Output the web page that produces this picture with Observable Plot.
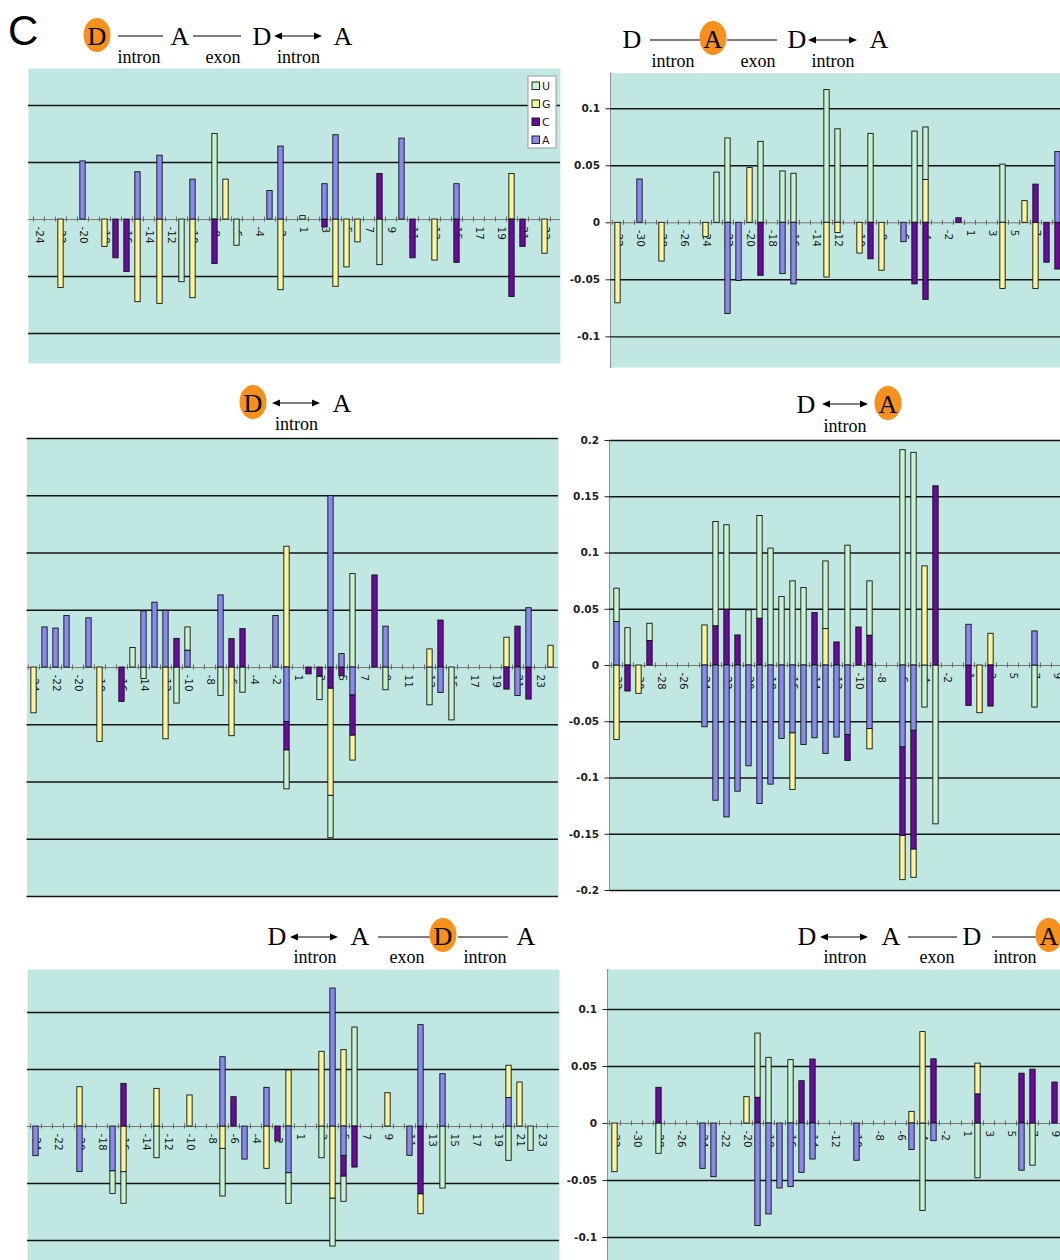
<!DOCTYPE html>
<html><head><meta charset="utf-8">
<script src="https://cdn.jsdelivr.net/npm/d3@7"></script>
<script src="https://cdn.jsdelivr.net/npm/@observablehq/plot@0.6"></script>
<style>
html,body{margin:0;padding:0;background:#fff;overflow:hidden;width:1060px;height:1260px;position:relative}
.pn{position:absolute;overflow:hidden}
.pn svg{overflow:hidden}
#overlay{position:absolute;left:0;top:0;pointer-events:none}
</style></head><body>
<script>
// ---------------- data ----------------
const legendBases = ["U", "G", "C", "A"];
const stackOrder = ["A", "C", "G", "U"];
const baseColors = ["#c9f3cf", "#faf49b", "#6a0a9e", "#8a8aee"];

const posLeft = [-24,-23,-22,-21,-20,-19,-18,-17,-16,-15,-14,-13,-12,-11,-10,-9,-8,-7,-6,-5,-4,-3,-2,-1,
  1,2,3,4,5,6,7,8,9,10,11,12,13,14,15,16,17,18,19,20,21,22,23,24];
const posRight = [-32,-31,-30,-29,-28,-27,-26,-25,-24,-23,-22,-21,-20,-19,-18,-17,-16,-15,-14,-13,-12,-11,
  -10,-9,-8,-7,-6,-5,-4,-3,-2,-1,1,2,3,4,5,6,7,8,9];
const labLeft = [-24,-22,-20,-18,-16,-14,-12,-10,-8,-6,-4,-2,1,3,5,7,9,11,13,15,17,19,21,23];
const labRight = [-32,-30,-28,-26,-24,-22,-20,-18,-16,-14,-12,-10,-8,-6,-4,-2,1,3,5,7,9];

// panel 1 : D -- A -- D <-> A   (first D highlighted)
const p1U = [[-11,-0.055],[-8,0.075],[-6,-0.023],[1,0.003],[8,-0.040]];
const p1G = [[-22,-0.060],[-18,-0.024],[-15,-0.0725],[-13,-0.074],[-10,-0.069],[-7,0.035],[-2,-0.062],
  [4,-0.059],[5,-0.042],[6,-0.020],[13,-0.036],[20,0.040],[23,-0.030]];
const p1C = [[-17,-0.034],[-16,-0.046],[-8,-0.039],[3,-0.007],[8,0.040],[11,-0.034],[15,-0.038],[20,-0.068],[21,-0.024]];
const p1A = [[-20,0.051],[-15,0.0415],[-13,0.056],[-10,0.035],[-3,0.025],[-2,0.064],[3,0.031],[4,0.074],[10,0.071],[15,0.031]];

// panel 2 : D -- A -- D <-> A   (first A highlighted)
const p2U = [[-23,0.044],[-22,0.074],[-19,0.071],[-17,0.045],[-16,0.043],[-13,0.1165],[-12,0.082],[-9,0.078],
  [-5,0.080],[-4,0.046],[4,0.051]];
const p2G = [[-32,-0.0706],[-28,-0.034],[-24,-0.0126],[-20,0.048],[-13,-0.048],[-12,-0.009],[-10,-0.027],[-8,-0.042],
  [-4,0.0376],[4,-0.058],[6,0.019],[7,-0.058]];
const p2C = [[-19,-0.0465],[-9,-0.032],[-5,-0.054],[-4,-0.0676],[-1,0.004],[7,0.0335],[8,-0.035],[9,-0.041]];
const p2A = [[-30,0.038],[-22,-0.080],[-21,-0.051],[-17,-0.045],[-16,-0.054],[-6,-0.017],[9,0.062]];

// panel 3 : D <-> A   (D highlighted)
const p3U = [[-15,0.017],[-14,-0.010],[-11,-0.0315],[-10,0.0204],[-7,-0.0248],[-5,-0.022],[-1,-0.0341],[3,-0.0205],
  [4,-0.0371],[6,0.0816],[9,-0.0199],[13,-0.033],[15,-0.0462]];
const p3G = [[-24,-0.040],[-18,-0.065],[-12,-0.0627],[-6,-0.060],[-1,0.1055],[4,-0.0936],[6,-0.0219],[13,0.0158],
  [20,0.026],[24,0.019]];
const p3C = [[-16,-0.030],[-11,0.025],[-6,0.0248],[-5,0.0335],[-1,-0.0248],[2,-0.006],[3,-0.008],[4,-0.0184],
  [5,-0.0076],[6,-0.0351],[8,0.0804],[14,0.041],[20,-0.0193],[21,0.0357],[22,-0.028]];
const p3A = [[-23,0.035],[-22,0.034],[-21,0.045],[-19,0.043],[-14,0.049],[-13,0.0566],[-12,0.0496],[-10,0.0146],
  [-7,0.063],[-2,0.045],[-1,-0.0475],[4,0.1497],[5,0.0117],[6,-0.0243],[9,0.0357],[14,-0.0222],[21,-0.0249],[22,0.0518]];

// panel 4 : D <-> A   (A highlighted)
const p4U = [[-32,0.0297],[-31,0.0332],[-29,0.0154],[-23,0.0929],[-22,0.0751],[-20,0.049],[-19,0.0914],[-18,0.1039],
  [-17,0.0608],[-16,0.0748],[-15,0.0688],[-13,0.0602],[-11,0.1065],[-9,0.0484],[-6,0.1914],[-5,0.189],[-4,-0.0374],
  [-3,-0.1412],[7,-0.0374]];
const p4G = [[-32,-0.0662],[-30,-0.0252],[-24,0.0356],[-16,-0.0504],[-13,0.0323],[-9,-0.0181],[-6,-0.0392],
  [-5,-0.0252],[-4,0.0881],[2,-0.0424],[3,0.0282]];
const p4C = [[-31,-0.0231],[-29,0.0217],[-23,0.0347],[-22,0.0496],[-21,0.0267],[-19,0.0415],[-14,0.0466],[-12,0.0205],
  [-11,-0.0231],[-10,0.0338],[-9,0.0264],[-6,-0.0789],[-5,-0.1056],[-3,0.1593],[1,-0.0359],[3,-0.0365]];
const p4A = [[-32,0.0386],[-24,-0.0549],[-23,-0.1202],[-22,-0.135],[-21,-0.1122],[-20,-0.0896],[-19,-0.1231],
  [-18,-0.1059],[-17,-0.0653],[-16,-0.0602],[-15,-0.0706],[-14,-0.0647],[-13,-0.0786],[-12,-0.0641],[-11,-0.0617],
  [-9,-0.0564],[-6,-0.0727],[-5,-0.0579],[1,0.0362],[7,0.0303]];

// panel 5 : D <-> A -- D -- A   (second D highlighted)
const p5U = [[-17,-0.0199],[-16,-0.0278],[-13,-0.0278],[-7,-0.0418],[-1,-0.0269],[3,-0.0278],[4,-0.0421],[5,-0.0222],
  [6,0.0868],[14,-0.0544],[20,-0.0301],[22,-0.0213]];
const p5G = [[-20,0.0345],[-16,-0.040],[-13,0.033],[-10,0.0272],[-7,-0.0196],[-3,-0.0371],[-1,0.0491],[3,0.0655],
  [4,-0.0632],[5,0.067],[9,0.0292],[12,-0.0175],[20,0.0284],[21,0.0386]];
const p5C = [[-16,0.0374],[-6,0.0257],[-2,-0.013],[5,-0.0181],[6,-0.036],[12,-0.0594]];
const p5A = [[-24,-0.026],[-20,-0.040],[-17,-0.0392],[-7,0.0608],[-5,-0.029],[-3,0.0339],[-1,-0.0409],[4,0.121],
  [5,-0.0257],[11,-0.0257],[12,0.0889],[14,0.0459],[20,0.0249]];

// panel 6 : D <-> A -- D -- A   (last A highlighted)
const p6U = [[-28,-0.0266],[-19,0.0564],[-18,0.0576],[-16,0.0556],[-4,-0.0767],[2,-0.0481],[7,-0.037]];
const p6G = [[-32,-0.0427],[-20,0.0231],[-5,0.0102],[-4,0.0802],[2,0.0271]];
const p6C = [[-28,0.0313],[-19,0.0225],[-15,0.0371],[-14,0.0561],[-3,0.0563],[2,0.0254],[6,0.0437],[7,0.0472],[9,0.0359]];
const p6A = [[-24,-0.0398],[-23,-0.0471],[-19,-0.090],[-18,-0.0798],[-17,-0.057],[-16,-0.0558],[-15,-0.0433],
  [-14,-0.0316],[-10,-0.0327],[-5,-0.0233],[-3,-0.0155],[6,-0.0414]];

const gridSmall = [-0.1, -0.05, 0.05, 0.1];
const gridLarge = [-0.2, -0.15, -0.1, -0.05, 0.05, 0.1, 0.15, 0.2];
const yTicksSmall = [-0.1, -0.05, 0, 0.05, 0.1];
const yTicksLarge = [-0.2, -0.15, -0.1, -0.05, 0, 0.05, 0.1, 0.15, 0.2];

// ---------------- drawing ----------------
const BG = "#c1e7e3";

function buildPanel(cfg) {
  const rows = [];
  [["U", cfg.U], ["G", cfg.G], ["C", cfg.C], ["A", cfg.A]].forEach(([b, arr]) =>
    arr.forEach(([pos, v]) => rows.push({pos, b, v})));
  const step = (cfg.xr[1] - cfg.xr[0]) / cfg.cats.length;
  const frameH = cfg.height - cfg.mT - cfg.mB;
  const ppu = frameH / (cfg.yd[1] - cfg.yd[0]);
  const tk = 2.5 / ppu;
  const ins = (step - 5.4) / 2;
  const yOpts = cfg.yTicks
    ? {domain: cfg.yd, axis: "left", ticks: cfg.yTicks, tickFormat: d => String(d), tickSize: 5,
       tickPadding: 6, line: true, label: null}
    : {domain: cfg.yd, axis: null};
  const chart = Plot.plot({
    width: cfg.width, height: cfg.height,
    marginLeft: cfg.mL, marginRight: cfg.mR, marginTop: cfg.mT, marginBottom: cfg.mB,
    style: {fontFamily: "DejaVu Sans", fontSize: "10.5px", fontWeight: "bold", color: "#222",
            background: "transparent", maxWidth: "none", overflow: "hidden"},
    x: {type: "band", domain: cfg.cats, range: cfg.xr, padding: 0, axis: null},
    y: yOpts,
    color: {domain: legendBases, range: baseColors},
    marks: [
      Plot.frame({fill: BG, stroke: null}),
      Plot.ruleY(cfg.grid, {y: d => d, stroke: "#151515", strokeWidth: 1.4}),
      Plot.text(cfg.labels, {x: d => d, y: 0, text: d => String(d), rotate: 90, textAnchor: "start",
        dy: 7, fontSize: 10.5, fontWeight: "normal", fill: "#1a1a1a"}),
      Plot.ruleY([0], {stroke: "#777", strokeWidth: 1}),
      Plot.ruleX(cfg.cats, {x: d => d, dx: -step / 2, y1: -tk, y2: tk, stroke: "#666"}),
      Plot.barY(rows, Plot.stackY({x: "pos", y: "v", z: "b", fill: "b", order: stackOrder,
        stroke: "#111", strokeWidth: 0.9, insetLeft: ins, insetRight: ins}))
    ]
  });
  const div = document.createElement("div");
  div.className = "pn";
  div.style.left = cfg.left + "px";
  div.style.top = cfg.top + "px";
  div.style.width = Math.min(cfg.width, 1060 - cfg.left) + "px";
  div.style.height = cfg.height + "px";
  div.appendChild(chart);
  document.body.appendChild(div);
}

buildPanel({left: 0, top: 60, width: 565, height: 310, mL: 28, mR: 5, mT: 8, mB: 7,
  yd: [-0.1263, 0.1325], xr: [31.5, 31.5 + 48 * 11.08], cats: posLeft, labels: labLeft, grid: gridSmall,
  U: p1U, G: p1G, C: p1C, A: p1A});
buildPanel({left: 560, top: 60, width: 500, height: 312, mL: 50.5, mR: 0, mT: 12.7, mB: 5,
  yd: [-0.1269, 0.1312], xr: [50.5, 50.5 + 41 * 11.08], cats: posRight, labels: labRight, grid: gridSmall,
  yTicks: yTicksSmall, U: p2U, G: p2G, C: p2C, A: p2A});
buildPanel({left: 0, top: 430, width: 565, height: 475, mL: 26.5, mR: 7, mT: 8, mB: 9,
  yd: [-0.2, 0.2], xr: [26.1, 26.1 + 48 * 11.09], cats: posLeft, labels: labLeft, grid: gridLarge,
  U: p3U, G: p3G, C: p3C, A: p3A});
buildPanel({left: 560, top: 430, width: 500, height: 470, mL: 49.5, mR: 0, mT: 10, mB: 10,
  yd: [-0.2, 0.2], xr: [49.5, 49.5 + 41 * 11.06], cats: posRight, labels: labRight, grid: gridLarge,
  yTicks: yTicksLarge, U: p4U, G: p4G, C: p4C, A: p4A});
buildPanel({left: 0, top: 960, width: 565, height: 300, mL: 27, mR: 6, mT: 9, mB: 0,
  yd: [-0.1175, 0.1377], xr: [27.75, 27.75 + 48 * 11.1], cats: posLeft, labels: labLeft, grid: gridSmall,
  U: p5U, G: p5G, C: p5C, A: p5A});
buildPanel({left: 560, top: 960, width: 500, height: 300, mL: 47.5, mR: 0, mT: 9, mB: 0,
  yd: [-0.1202, 0.1351], xr: [47.2, 47.2 + 41 * 11.08], cats: posRight, labels: labRight, grid: gridSmall,
  yTicks: yTicksSmall, U: p6U, G: p6G, C: p6C, A: p6A});

// ---------------- overlay: headers, legend, panel letter ----------------
const ov = d3.select(document.body).append("svg").attr("id", "overlay")
  .attr("width", 1060).attr("height", 1260);
const ORANGE = "#f5911c";

ov.append("text").attr("x", 8).attr("y", 45).attr("font-family", "Liberation Sans")
  .attr("font-size", 42).text("C");

function header(h) {
  const g = ov.append("g");
  h.segs.forEach(([a, b]) => g.append("line").attr("x1", a).attr("x2", b)
    .attr("y1", h.ly).attr("y2", h.ly).attr("stroke", "#000").attr("stroke-width", 1.1));
  h.arrows.forEach(([a, b]) => {
    g.append("line").attr("x1", a + 6).attr("x2", b - 6).attr("y1", h.ly).attr("y2", h.ly)
      .attr("stroke", "#000").attr("stroke-width", 1.1);
    g.append("path").attr("d", `M${a},${h.ly}L${a + 8},${h.ly - 3.5}L${a + 8},${h.ly + 3.5}Z`);
    g.append("path").attr("d", `M${b},${h.ly}L${b - 8},${h.ly - 3.5}L${b - 8},${h.ly + 3.5}Z`);
  });
  h.letters.forEach(([t, x, hl]) => {
    if (hl) g.append("ellipse").attr("cx", x).attr("cy", h.base - 10).attr("rx", 13.5).attr("ry", 17)
      .attr("fill", ORANGE);
    g.append("text").attr("x", x).attr("y", h.base).attr("text-anchor", "middle")
      .attr("font-family", "Liberation Serif").attr("font-size", 26).text(t);
  });
  h.labels.forEach(([t, x]) => g.append("text").attr("x", x).attr("y", h.lb).attr("text-anchor", "middle")
    .attr("font-family", "Liberation Serif").attr("font-size", 18).text(t));
}

header({base: 45, ly: 36, lb: 63, letters: [["D", 97, 1], ["A", 180], ["D", 262], ["A", 343]],
  segs: [[118, 163], [193, 241]], arrows: [[274, 322]],
  labels: [["intron", 139], ["exon", 223], ["intron", 298.5]]});
header({base: 48, ly: 40, lb: 67, letters: [["D", 632], ["A", 713, 1], ["D", 797], ["A", 879]],
  segs: [[650, 700], [727, 777]], arrows: [[808, 857]],
  labels: [["intron", 673], ["exon", 758], ["intron", 833]]});
header({base: 412, ly: 403, lb: 430, letters: [["D", 253, 1], ["A", 342]],
  segs: [], arrows: [[272, 320]], labels: [["intron", 296.5]]});
header({base: 413, ly: 404, lb: 432, letters: [["D", 806], ["A", 888, 1]],
  segs: [], arrows: [[822, 868]], labels: [["intron", 845]]});
header({base: 945, ly: 937, lb: 963, letters: [["D", 277], ["A", 360], ["D", 443, 1], ["A", 526]],
  segs: [[378, 430], [458, 508]], arrows: [[290, 338]],
  labels: [["intron", 315], ["exon", 407], ["intron", 485]]});
header({base: 945, ly: 937, lb: 963, letters: [["D", 807], ["A", 891], ["D", 972], ["A", 1049, 1]],
  segs: [[908, 957], [992, 1036]], arrows: [[820, 868]],
  labels: [["intron", 845], ["exon", 937], ["intron", 1015]]});

// legend (panel 1)
const lg = ov.append("g");
lg.append("rect").attr("x", 528).attr("y", 76).attr("width", 28).attr("height", 72)
  .attr("fill", "#fff").attr("stroke", "#9a9a9a");
legendBases.forEach((b, i) => {
  const cy = 86 + i * 18;
  lg.append("rect").attr("x", 532).attr("y", cy - 4).attr("width", 7.5).attr("height", 7.5)
    .attr("fill", baseColors[i]).attr("stroke", "#111").attr("stroke-width", 0.9);
  lg.append("text").attr("x", 542).attr("y", cy + 4).attr("font-family", "DejaVu Sans")
    .attr("font-size", 11).attr("fill", "#222").text(b);
});
</script>
</body></html>
